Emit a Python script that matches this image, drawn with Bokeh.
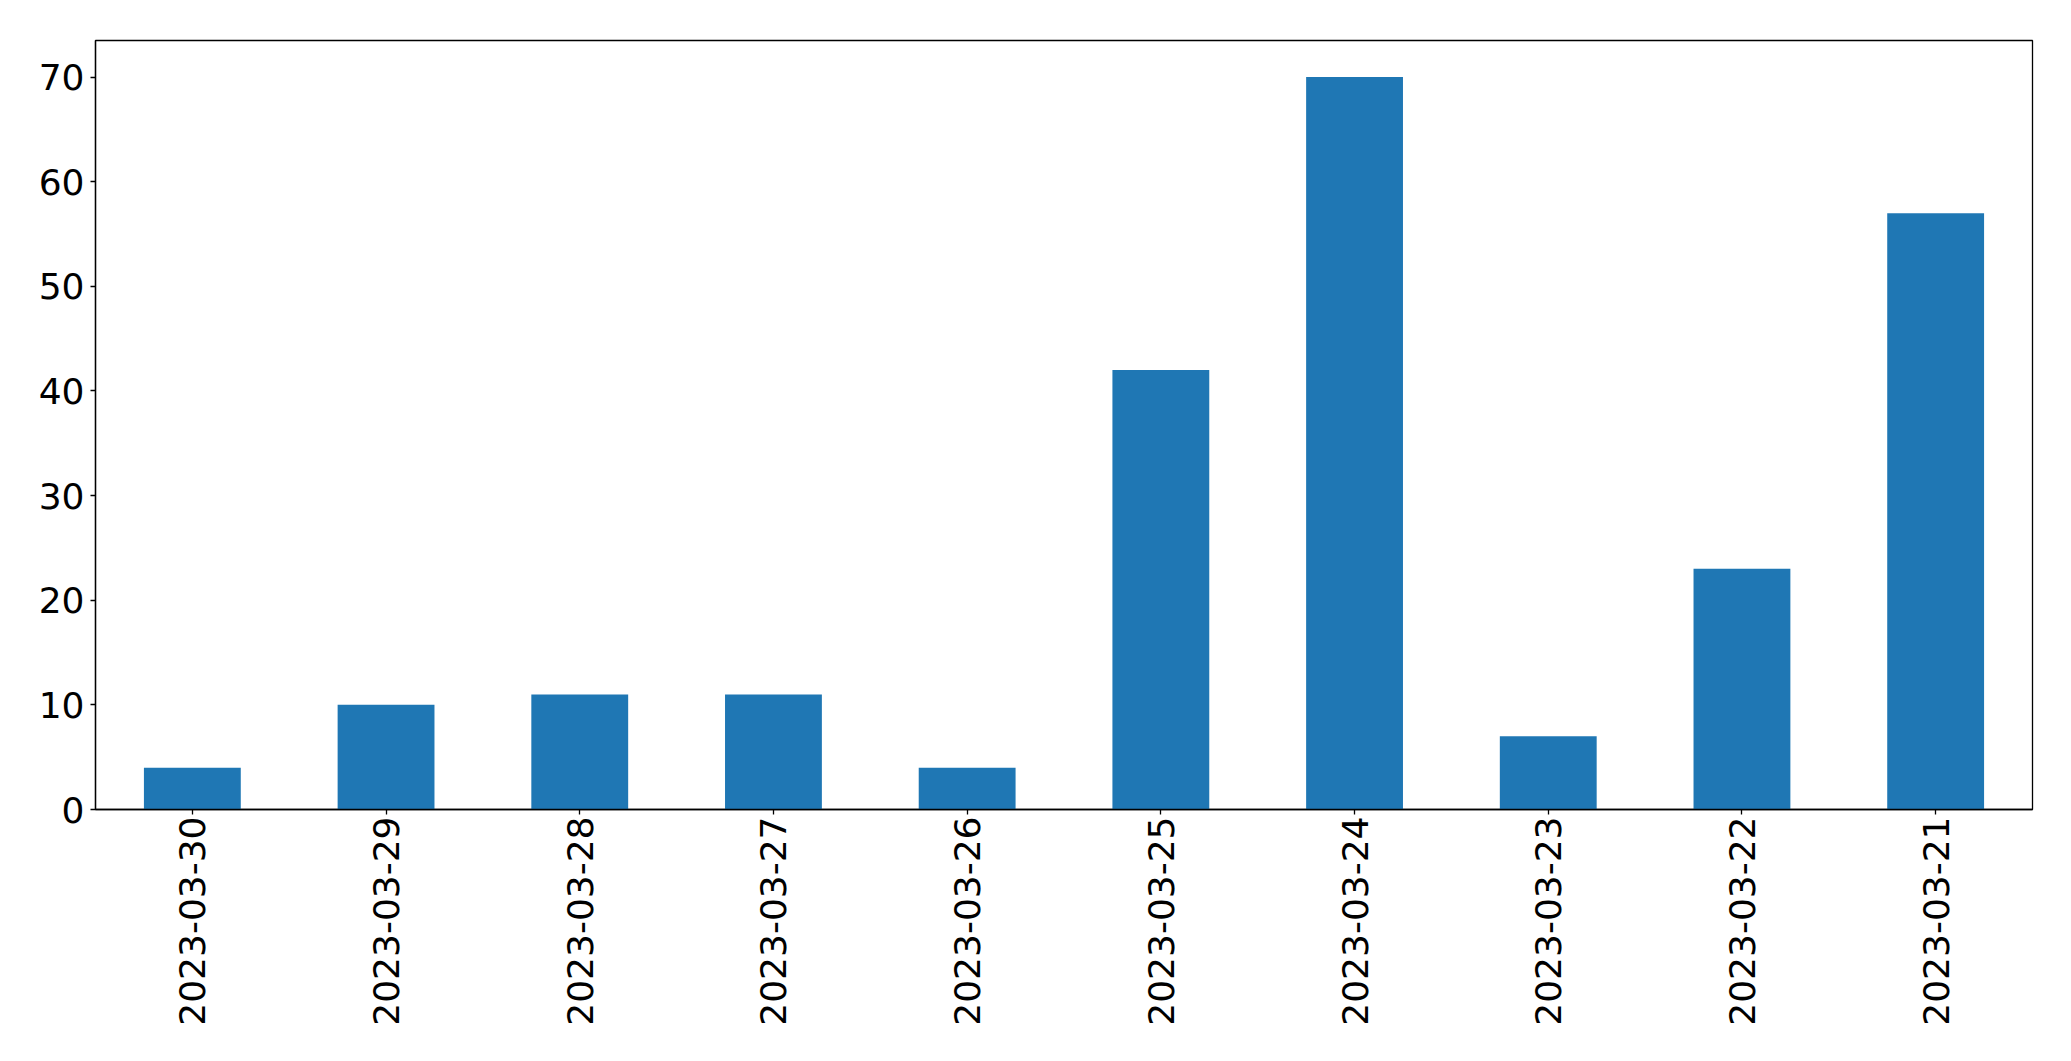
import math
from bokeh.plotting import figure
from bokeh.models import ColumnDataSource, FactorRange, Range1d, FixedTicker
from bokeh.embed import file_html
from bokeh.resources import INLINE

dates = ["2023-03-30", "2023-03-29", "2023-03-28", "2023-03-27", "2023-03-26",
         "2023-03-25", "2023-03-24", "2023-03-23", "2023-03-22", "2023-03-21"]
counts = [4, 10, 11, 11, 4, 42, 70, 7, 23, 57]
y_ticks = [0, 10, 20, 30, 40, 50, 60, 70]

src = ColumnDataSource(data=dict(x=dates, top=counts))

p = figure(width=2055, height=1045, output_backend="svg", toolbar_location=None,
           x_range=FactorRange(factors=dates, range_padding=0),
           y_range=Range1d(0, 73.5),
           min_border_left=95, min_border_right=23, min_border_top=40, min_border_bottom=236)

p.vbar(x="x", top="top", width=0.5, source=src, fill_color="#1f77b4", line_color=None)

p.xgrid.visible = False
p.ygrid.visible = False
p.outline_line_color = "black"
p.outline_line_width = 1.3
p.outline_line_alpha = 1

for ax in (p.xaxis[0], p.yaxis[0]):
    ax.axis_line_color = "black"
    ax.axis_line_width = 1.3
    ax.major_tick_line_color = "black"
    ax.major_tick_line_width = 1.3
    ax.major_tick_in = 0
    ax.major_tick_out = 5
    ax.minor_tick_line_color = None
    ax.major_label_text_font = "DejaVu Sans"
    ax.major_label_text_font_size = "36px"
    ax.major_label_text_color = "black"

p.yaxis.ticker = FixedTicker(ticks=y_ticks)
p.yaxis.major_label_standoff = 6
p.xaxis.major_label_orientation = math.pi / 2
p.xaxis.major_label_standoff = 2

open("out.html", "w").write(file_html(p, INLINE))
